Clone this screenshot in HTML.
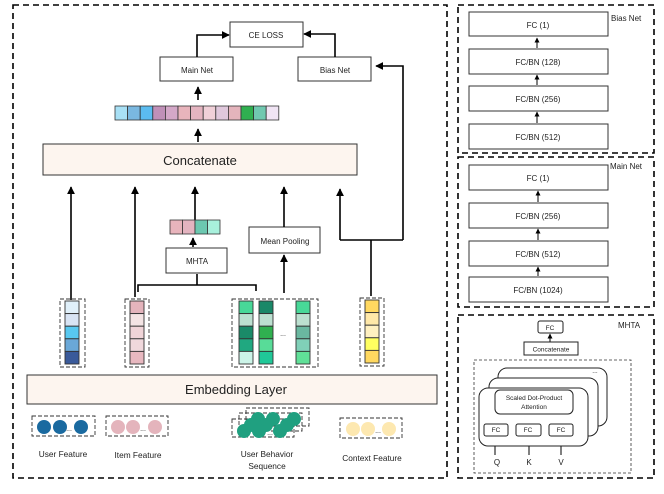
<!DOCTYPE html>
<html><head><meta charset="utf-8"><style>body{margin:0;background:#fff}svg{display:block}text{font-family:"Liberation Sans","DejaVu Sans",sans-serif;fill:#222}</style></head><body>
<svg width="664" height="494" viewBox="0 0 664 494" xmlns="http://www.w3.org/2000/svg">
<defs><marker id="a" viewBox="0 0 10 10" refX="9" refY="5" markerWidth="5" markerHeight="5" orient="auto"><path d="M0,0L10,5L0,10z" fill="#000"/></marker></defs>
<g fill="none" stroke="#000" stroke-width="1.6" stroke-dasharray="6,4">
<rect x="13" y="5" width="434" height="473"/>
<rect x="458" y="5" width="196" height="148"/>
<rect x="458" y="157" width="196" height="150"/>
<rect x="458" y="315" width="196" height="163"/>
</g>
<g stroke="#333" stroke-width="1" fill="#fff">
<rect x="230" y="22" width="73" height="25"/>
<rect x="160" y="57" width="73" height="24"/>
<rect x="298" y="57" width="73" height="24"/>
<rect x="43" y="144" width="314" height="31" fill="#fdf5ef"/>
<rect x="27" y="375" width="410" height="29" fill="#fdf5ef"/>
<rect x="166" y="248" width="61" height="25"/>
<rect x="249" y="227" width="71" height="26"/>
</g>
<g font-size="8" text-anchor="middle">
<text x="266" y="38">CE LOSS</text>
<text x="197" y="73">Main Net</text>
<text x="335" y="73">Bias Net</text>
<text x="197" y="264">MHTA</text>
<text x="285" y="244">Mean Pooling</text>
</g>
<text x="200" y="165" font-size="13" text-anchor="middle">Concatenate</text>
<text x="236" y="394" font-size="13" text-anchor="middle">Embedding Layer</text>
<g stroke="#000" stroke-width="1.6" fill="none" marker-end="url(#a)">
<path d="M197,57V35H229"/>
<path d="M335,57V34H304"/>
<path d="M198,100V87"/>
<path d="M198,142V129"/>
<path d="M71,300V187"/>
<path d="M135,297V187"/>
<path d="M195,220V187"/>
<path d="M193,247V238"/>
<path d="M284,227V187"/>
<path d="M284,293V255"/>
<path d="M340,240V189"/>
<path d="M403,240V66H376"/>
</g>
<g stroke="#000" stroke-width="1.6" fill="none">
<path d="M340,240H403"/><path d="M371,296V240"/>
<path d="M138,292V285H256V291"/><path d="M197,285V274"/>
</g>
<g stroke="#333" stroke-width="0.8">
<rect x="115" y="106" width="12.6" height="14" fill="#a8e0f5"/><rect x="127.6" y="106" width="12.6" height="14" fill="#7ab8e0"/><rect x="140.2" y="106" width="12.6" height="14" fill="#5bbcf0"/><rect x="152.8" y="106" width="12.6" height="14" fill="#c090b8"/><rect x="165.4" y="106" width="12.6" height="14" fill="#d4a8c8"/><rect x="178" y="106" width="12.6" height="14" fill="#e8b4bc"/><rect x="190.6" y="106" width="12.6" height="14" fill="#e4b4c0"/><rect x="203.2" y="106" width="12.6" height="14" fill="#f0d0d8"/><rect x="215.8" y="106" width="12.6" height="14" fill="#e0c8dc"/><rect x="228.4" y="106" width="12.6" height="14" fill="#e4b4bc"/><rect x="241" y="106" width="12.6" height="14" fill="#30b050"/><rect x="253.6" y="106" width="12.6" height="14" fill="#70c8b0"/><rect x="266.2" y="106" width="12.6" height="14" fill="#f0e4f4"/>
<rect x="170" y="220" width="12.5" height="14" fill="#e8b4bc"/><rect x="182.5" y="220" width="12.5" height="14" fill="#e4b4c0"/><rect x="195" y="220" width="12.5" height="14" fill="#6cc8b0"/><rect x="207.5" y="220" width="12.5" height="14" fill="#a8f0dc"/>
</g>
<g fill="none" stroke="#333" stroke-width="0.9" stroke-dasharray="4,2">
<rect x="60" y="299" width="25" height="68"/><rect x="125" y="299" width="24" height="68"/><rect x="232" y="299" width="86" height="68"/><rect x="360" y="298" width="24" height="68"/>
<rect x="32" y="416" width="63" height="20"/><rect x="106" y="416" width="62" height="20"/><rect x="340" y="418" width="62" height="20"/>
<rect x="246" y="408" width="63" height="18"/><rect x="239" y="413" width="63" height="18"/><rect x="232" y="419" width="62" height="18"/>
</g>
<g stroke="#333" stroke-width="0.9">
<rect x="65" y="301" width="14" height="12.6" fill="#e0f0fa"/><rect x="65" y="313.6" width="14" height="12.6" fill="#d8e4f4"/><rect x="65" y="326.2" width="14" height="12.6" fill="#58c8f0"/><rect x="65" y="338.8" width="14" height="12.6" fill="#6aa8d8"/><rect x="65" y="351.4" width="14" height="12.6" fill="#3a5a9a"/>
<rect x="130" y="301" width="14" height="12.6" fill="#e4b4bc"/><rect x="130" y="313.6" width="14" height="12.6" fill="#f4e4e4"/><rect x="130" y="326.2" width="14" height="12.6" fill="#f0d4d8"/><rect x="130" y="338.8" width="14" height="12.6" fill="#f0d8dc"/><rect x="130" y="351.4" width="14" height="12.6" fill="#e8b8c0"/>
<rect x="239" y="301" width="14" height="12.6" fill="#48d898"/><rect x="239" y="313.6" width="14" height="12.6" fill="#bce0d0"/><rect x="239" y="326.2" width="14" height="12.6" fill="#1a8a68"/><rect x="239" y="338.8" width="14" height="12.6" fill="#20a880"/><rect x="239" y="351.4" width="14" height="12.6" fill="#ccf4e8"/>
<rect x="259" y="301" width="14" height="12.6" fill="#1a8868"/><rect x="259" y="313.6" width="14" height="12.6" fill="#bce0d0"/><rect x="259" y="326.2" width="14" height="12.6" fill="#30b050"/><rect x="259" y="338.8" width="14" height="12.6" fill="#58dc98"/><rect x="259" y="351.4" width="14" height="12.6" fill="#20c898"/>
<rect x="296" y="301" width="14" height="12.6" fill="#48d898"/><rect x="296" y="313.6" width="14" height="12.6" fill="#bce0d0"/><rect x="296" y="326.2" width="14" height="12.6" fill="#6ab8a0"/><rect x="296" y="338.8" width="14" height="12.6" fill="#80d0b8"/><rect x="296" y="351.4" width="14" height="12.6" fill="#60e098"/>
<rect x="365" y="300" width="14" height="12.6" fill="#ffd860"/><rect x="365" y="312.6" width="14" height="12.6" fill="#ffe8a8"/><rect x="365" y="325.2" width="14" height="12.6" fill="#fff0c0"/><rect x="365" y="337.8" width="14" height="12.6" fill="#ffff60"/><rect x="365" y="350.4" width="14" height="12.6" fill="#ffd860"/>
</g>
<text x="283" y="336" font-size="7" text-anchor="middle">...</text>
<g fill="#1a6aa0"><circle cx="44" cy="427" r="7"/><circle cx="60" cy="427" r="7"/><circle cx="81" cy="427" r="7"/></g>
<g fill="#e4b4bc"><circle cx="118" cy="427" r="7"/><circle cx="133" cy="427" r="7"/><circle cx="155" cy="427" r="7"/></g>
<g fill="#fde8b0"><circle cx="353" cy="429" r="7"/><circle cx="368" cy="429" r="7"/><circle cx="389" cy="429" r="7"/></g>
<g fill="#20a080"><circle cx="258" cy="419" r="7"/><circle cx="273" cy="419" r="7"/><circle cx="294" cy="419" r="7"/><circle cx="251" cy="425" r="7"/><circle cx="266" cy="425" r="7"/><circle cx="287" cy="425" r="7"/><circle cx="244" cy="431" r="7"/><circle cx="259" cy="431" r="7"/><circle cx="280" cy="431" r="7"/></g>
<g font-size="7" text-anchor="middle"><text x="69" y="431">...</text><text x="143" y="431">...</text><text x="378" y="433">...</text><text x="270" y="435">...</text></g>
<g font-size="8.3" text-anchor="middle">
<text x="63" y="457">User Feature</text><text x="138" y="458">Item Feature</text><text x="267" y="457">User Behavior</text><text x="267" y="469">Sequence</text><text x="372" y="461">Context Feature</text>
</g>
<g stroke="#333" stroke-width="1" fill="#fff">
<rect x="469" y="12" width="139" height="24"/><rect x="469" y="49" width="139" height="25"/><rect x="469" y="86" width="139" height="25"/><rect x="469" y="124" width="139" height="25"/>
<rect x="469" y="165" width="139" height="25"/><rect x="469" y="203" width="139" height="25"/><rect x="469" y="241" width="139" height="25"/><rect x="469" y="277" width="139" height="25"/>
</g>
<g font-size="8" text-anchor="middle">
<text x="538" y="28">FC (1)</text><text x="538" y="65">FC/BN (128)</text><text x="538" y="102">FC/BN (256)</text><text x="538" y="140">FC/BN (512)</text>
<text x="538" y="181">FC (1)</text><text x="538" y="219">FC/BN (256)</text><text x="538" y="257">FC/BN (512)</text><text x="538" y="293">FC/BN (1024)</text>
</g>
<text x="611" y="21" font-size="8">Bias Net</text>
<text x="610" y="169" font-size="8">Main Net</text>
<text x="618" y="328" font-size="8">MHTA</text>
<g stroke="#000" stroke-width="1" fill="none" marker-end="url(#a)">
<path d="M537,48V38"/><path d="M537,85V75"/><path d="M537,123V112"/>
<path d="M538,202V191"/><path d="M538,240V229"/><path d="M538,276V267"/>
<path d="M550,342V334"/>
<path d="M495,455V437"/><path d="M529,455V437"/><path d="M561,455V437"/>
</g>
<rect x="474" y="360" width="157" height="113" fill="none" stroke="#333" stroke-width="0.8" stroke-dasharray="3,2"/>
<g stroke="#222" stroke-width="1" fill="#fff">
<rect x="538" y="321" width="25" height="12" rx="2"/>
<rect x="524" y="342" width="54" height="13"/>
<rect x="498" y="368" width="109" height="58" rx="9"/>
<rect x="489" y="378" width="109" height="58" rx="9"/>
<rect x="479" y="388" width="109" height="58" rx="9"/>
<rect x="495" y="390" width="78" height="24" rx="5"/>
<rect x="484" y="424" width="24" height="12" rx="2"/><rect x="516" y="424" width="25" height="12" rx="2"/><rect x="549" y="424" width="24" height="12" rx="2"/>
</g>
<g font-size="6.5" text-anchor="middle">
<text x="550" y="330">FC</text><text x="551" y="351.5">Concatenate</text>
<text x="534" y="400">Scaled Dot-Product</text><text x="534" y="409">Attention</text>
<text x="496" y="432">FC</text><text x="528" y="432">FC</text><text x="561" y="432">FC</text>
<text x="595" y="373">...</text>
</g>
<g font-size="8" text-anchor="middle"><text x="497" y="465">Q</text><text x="529" y="465">K</text><text x="561" y="465">V</text></g>
</svg>
</body></html>
